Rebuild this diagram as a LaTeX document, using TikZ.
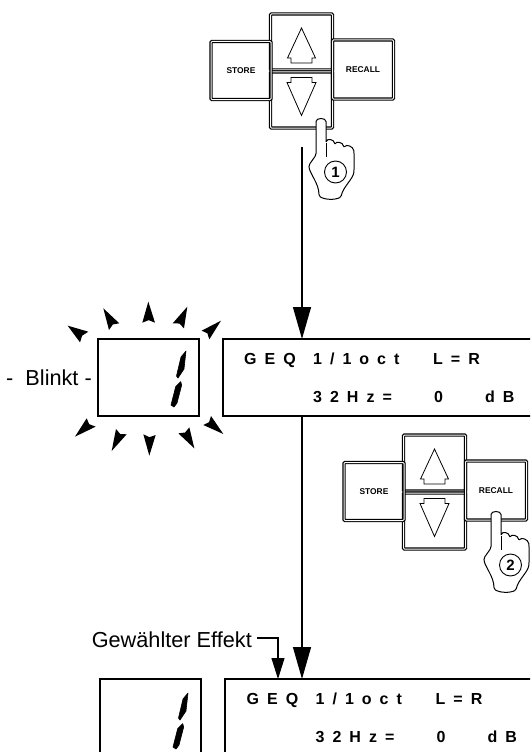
\documentclass[tikz,border=0pt]{standalone}
\usepackage{fontspec}
\setmainfont{Liberation Sans}
\usepackage{tikz}
\usetikzlibrary{positioning,arrows.meta,calc}
\newfontfamily\lcdfont[LetterSpace=50]{Liberation Sans}
\tikzset{
  flowln/.style={-{Triangle[length=32pt,width=18pt]},line width=1.3pt},
  noteln/.style={-{Triangle[length=21pt,width=13pt]},line width=1.1pt},
  btn/.style={draw,double,double distance=1pt,line width=1.1pt,rounded corners=1pt,outer sep=0pt,inner sep=0pt,font=\bfseries\fontsize{8.4}{9}\selectfont},
  panel/.style={draw,line width=1.4pt,anchor=north west,outer sep=0pt,inner sep=0pt},
  lcdtxt/.style={font=\lcdfont\bfseries\fontsize{16}{17}\selectfont,inner sep=0pt,anchor=base west},
  keyarrow/.style={line width=0.8pt,fill=white},
  seg/.style={fill=black,draw=black,line width=0.6pt,line join=round},
  spark/.style={fill=black},
  lbl/.style={font=\fontsize{21.7}{24}\selectfont,inner sep=0pt},
  % ---- key block ----
  keys/.pic={
    \node[btn,minimum width=62pt,minimum height=56pt] (up) at (31.5,29) {};
    \node[btn,minimum width=62pt,minimum height=56pt,below=2pt of up] (dn) {};
    \node[btn,minimum width=60pt,minimum height=58pt] (st) at (-29,57.5) {STORE};
    \node[btn,minimum width=61pt,minimum height=59pt] (rc) at (93,56.5) {RECALL};
    \draw[keyarrow] ($(up)+(0,-14)$)--++(-14,30)--++(3.5,0)--++(0,5)--++(21,0)--++(0,-5)--++(3.5,0)--cycle;
    \draw[keyarrow] ($(dn)+(0,15.5)$)--++(-14.5,-33)--++(4,0)--++(0,-5)--++(21,0)--++(0,5)--++(4,0)--cycle;
  },
  % ---- pressing hand, origin at the finger tip ----
  hand/.pic={
    \draw[line width=1pt,fill=white,rounded corners=1.5pt] (-5,36)--(-5,4) .. controls (-5,-1.5) and (5,-1.5) .. (5,4)--(5,24)
      .. controls (6,19) and (13,20) .. (14,26) .. controls (15,22) and (22,23) .. (23,29)
      .. controls (25,25) and (32,27) .. (33,33)--(33,52)
      .. controls (32,60) and (22,68) .. (20,78) .. controls (14,81) and (4,81) .. (-2,77)
      .. controls (-2,64) and (-12,54) .. (-12,46)--cycle;
    \draw[line width=0.8pt] (5,24)--(5,38);
    \node[circle,draw,line width=0.9pt,minimum size=22pt,inner sep=0pt,font=\bfseries\fontsize{15}{16}\selectfont] (num) at (14.5,53) {\tikzpictext};
  },
  % ---- display lines ----
  lcdlines/.pic={
    \node[lcdtxt] (geq) at (244,364) {GEQ};
    \node[lcdtxt] (oct) at (313,364) {1/1oct};
    \node[lcdtxt] (lr) at (433,364) {L=R};
    \node[lcdtxt] (hz) at (313,402) {32Hz=};
    \node[lcdtxt] (val) at (434,402) {0};
    \node[lcdtxt] (db) at (485,402) {dB};
  },
  digit/.pic={
    \draw[seg] (0,0)--(-5,6)--(-9.5,25)--(-8,27)--(-2,18)--cycle;
    \draw[seg] (-5.3,30.7)--(-10.3,35.7)--(-15,54)--(-12,56)--(-9,52)--(-4.3,34)--cycle;
  },
}

\begin{document}
\begin{tikzpicture}[x=1pt,y=-1pt]
  \useasboundingbox (0,0) rectangle (530,752);
  \clip (0,0) rectangle (530,752);
  \fill[white] (0,0) rectangle (530,752);
  % first key block
  \pic (a) at (270,13) {keys};
  \coordinate (start) at (302,147);
  % first display
  \node[panel,minimum width=101pt,minimum height=77pt] (disp1) at (98,339) {};
  \node[panel,minimum width=320pt,minimum height=77pt] (lcd1) at (223,339) {};
  \pic at (0,0) {lcdlines};
  \pic at (186,351) {digit};
  \draw[flowln] (start)--(start|-lcd1.north);
  \pic[pic text=1] at (321,119) {hand};
  % blinking marks
  \begin{scope}[shift={(30,290)},x=1pt/3,y=-1pt/3]
    \foreach \tx/\ty/\ax/\ay/\bx/\by in {113/107/175/125/150/157, 220/55/268/100/237/120, 355/35/337/98/375/98,
      472/50/428/100/462/115, 573/92/515/122/538/148, 135/440/170/385/197/410, 245/483/258/417/290/433,
      358/497/340/433/377/435, 493/475/445/430/478/412, 580/432/520/405/543/378}
      \fill[spark] (\tx,\ty)--(\ax,\ay)--($(\ax,\ay)!.5!(\bx,\by)!.12!(\tx,\ty)$)--(\bx,\by)--cycle;
  \end{scope}
  \node[lbl,anchor=base east] (blink) at (92,385) {-\hspace{6pt} Blinkt -};
  % second key block
  \pic (b) at (403,434) {keys};
  % second display
  \node[panel,minimum width=101pt,minimum height=100pt] (disp2) at (100,679) {};
  \node[panel,minimum width=320pt,minimum height=100pt] (lcd2) at (225,679) {};
  \pic at (2.5,340) {lcdlines};
  \pic at (188,693) {digit};
  \draw[flowln] (lcd1.south -| start)--(lcd2.north -| start);
  \pic[pic text=2] at (496,512) {hand};
  % note
  \node[lbl,anchor=base east] (effekt) at (252,647) {Gewählter Effekt};
  \coordinate (bend) at (278,638);
  \draw[noteln] (effekt.east |- bend)++(5,0)--(bend)--(bend |- lcd2.north);
\end{tikzpicture}
\end{document}
